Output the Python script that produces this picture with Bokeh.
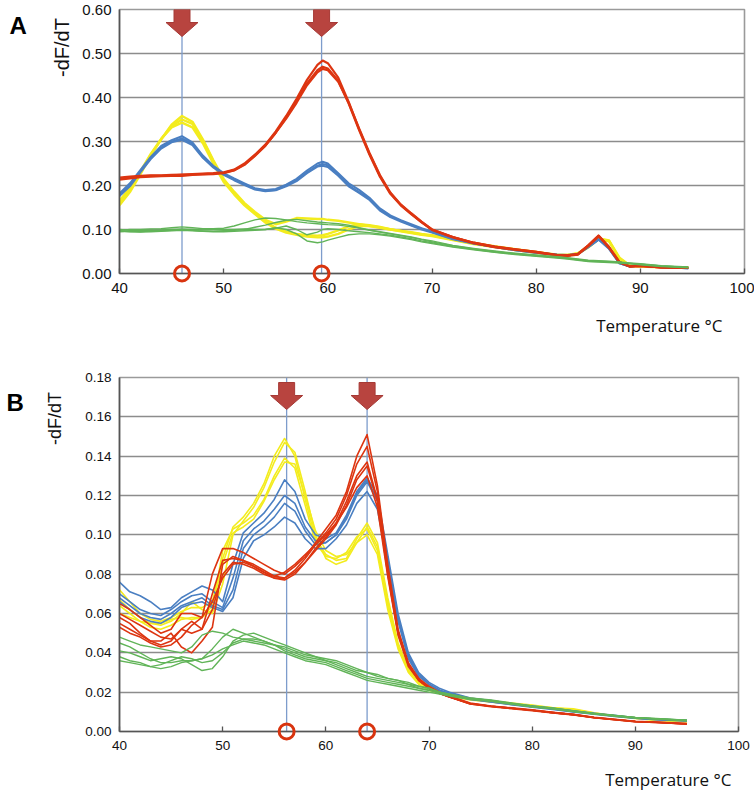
import math
from bokeh.plotting import figure
from bokeh.layouts import column
from bokeh.models import Range1d, FixedTicker, NumeralTickFormatter
from bokeh.core.properties import value
from bokeh.embed import file_html
from bokeh.resources import INLINE

# ---------------- data : panel A ----------------
TEMP_A = [40, 41, 42, 43, 44, 45, 46, 47, 48, 49, 50, 51, 52, 53, 54, 55, 56, 57, 58, 59, 59.5,
          60, 61, 62, 63, 64, 65, 66, 67, 68, 69, 70, 72, 74, 76, 78, 80,
          82, 83, 84, 85, 86, 87, 88, 89, 90, 92, 94.6]

A_YELLOW_1 = [.155, .185, .225, .268, .305, .338, .358, .345, .305, .258, .215, .186, .160, .140, .122, .112, .118, .126, .125, .124, .124,
              .122, .120, .116, .112, .108, .104, .100, .097, .094, .090, .087, .078, .069, .062, .055, .049,
              .043, .042, .046, .062, .080, .075, .036, .018, .017, .015, .014]
A_YELLOW_2 = [.160, .190, .228, .270, .305, .335, .350, .340, .302, .255, .212, .183, .158, .137, .118, .104, .095, .090, .087, .086, .087,
              .090, .098, .107, .112, .110, .106, .101, .097, .093, .089, .086, .077, .068, .061, .054, .048,
              .042, .042, .045, .060, .079, .074, .034, .017, .017, .015, .014]
A_YELLOW_3 = [.165, .195, .232, .272, .306, .332, .343, .332, .296, .250, .208, .180, .155, .135, .116, .102, .093, .088, .084, .082, .082,
              .084, .090, .100, .108, .108, .105, .100, .096, .092, .088, .085, .076, .067, .060, .053, .047,
              .042, .041, .045, .059, .078, .073, .033, .017, .016, .014, .013]

A_BLUE_1 = [.182, .205, .235, .265, .290, .303, .312, .298, .268, .245, .228, .216, .205, .194, .190, .192, .202, .215, .234, .250, .254,
            .250, .228, .205, .190, .172, .148, .132, .121, .112, .103, .095, .080, .069, .061, .054, .048,
            .043, .042, .045, .062, .078, .058, .024, .016, .018, .015, .012]
A_BLUE_2 = [.178, .200, .232, .262, .286, .300, .307, .295, .265, .243, .226, .214, .203, .192, .188, .190, .200, .213, .230, .245, .249,
            .246, .226, .200, .185, .170, .146, .130, .120, .110, .102, .094, .079, .068, .060, .053, .047,
            .042, .041, .044, .060, .077, .056, .023, .016, .018, .014, .012]
A_BLUE_3 = [.176, .198, .230, .260, .284, .298, .304, .292, .263, .241, .224, .212, .201, .191, .187, .189, .198, .210, .228, .243, .245,
            .242, .222, .198, .183, .167, .143, .128, .118, .109, .100, .093, .078, .068, .060, .053, .047,
            .042, .041, .044, .060, .077, .056, .023, .016, .018, .014, .012]

A_RED_1 = [.218, .220, .222, .223, .223, .224, .225, .226, .227, .228, .230, .236, .250, .270, .293, .323, .358, .397, .440, .474, .484,
           .478, .445, .390, .328, .272, .222, .183, .156, .136, .117, .100, .083, .070, .061, .055, .049,
           .042, .041, .044, .064, .086, .060, .026, .016, .017, .014, .013]
A_RED_2 = [.213, .216, .219, .220, .221, .222, .222, .224, .225, .226, .228, .234, .247, .267, .290, .320, .354, .392, .432, .462, .470,
           .466, .438, .386, .326, .270, .220, .181, .155, .135, .116, .099, .082, .069, .060, .054, .048,
           .041, .040, .043, .062, .085, .058, .025, .016, .017, .014, .013]
A_RED_3 = [.216, .218, .221, .222, .222, .223, .224, .225, .226, .227, .229, .235, .248, .268, .291, .320, .352, .388, .428, .457, .465,
           .462, .436, .388, .330, .274, .224, .184, .157, .137, .118, .100, .083, .070, .061, .055, .049,
           .042, .041, .044, .064, .086, .060, .026, .016, .017, .014, .013]

A_GREEN_1 = [.098, .100, .100, .101, .102, .104, .106, .104, .102, .102, .103, .108, .115, .122, .126, .125, .122, .118, .115, .113, .112,
             .111, .110, .107, .103, .098, .094, .090, .086, .082, .077, .072, .063, .056, .050, .045, .041,
             .037, .035, .032, .029, .028, .027, .025, .023, .021, .017, .014]
A_GREEN_2 = [.095, .096, .095, .097, .099, .100, .101, .100, .099, .100, .100, .100, .101, .100, .100, .103, .108, .100, .088, .094, .100,
             .102, .100, .097, .095, .093, .090, .087, .083, .079, .074, .070, .061, .055, .049, .044, .040,
             .036, .034, .031, .028, .027, .026, .025, .023, .021, .017, .014]
A_GREEN_3 = [.100, .098, .097, .097, .097, .098, .099, .098, .096, .095, .095, .096, .097, .098, .100, .104, .100, .090, .074, .070, .072,
             .076, .082, .088, .090, .090, .088, .085, .081, .077, .072, .068, .060, .054, .048, .043, .039,
             .035, .033, .030, .027, .026, .025, .024, .022, .020, .016, .013]
A_GREEN_4 = [.097, .095, .094, .095, .096, .097, .098, .097, .096, .096, .097, .098, .100, .105, .110, .116, .121, .123, .120, .117, .116,
             .115, .113, .110, .104, .099, .095, .091, .087, .083, .078, .074, .064, .057, .051, .046, .042,
             .038, .036, .033, .030, .029, .028, .026, .024, .022, .018, .015]

MARKERS_A = [46.0, 59.4]

# ---------------- data : panel B ----------------
TEMP_B = [40, 41, 42, 43, 44, 45, 46, 47, 48, 49, 50, 51, 52, 53, 54, 55, 56, 57, 58, 59, 60,
          61, 62, 63, 64, 65, 66, 67, 68, 69, 70, 71, 72,
          74, 76, 78, 80, 82, 84, 86, 88, 90, 92, 95]

B_YELLOW_1 = [0.072, 0.066, 0.060, 0.057, 0.056, 0.058, 0.061, 0.063, 0.063, 0.066, 0.088, 0.104, 0.109, 0.116, 0.126, 0.140, 0.149, 0.140, 0.118, 0.098, 0.090,
              0.087, 0.088, 0.098, 0.106, 0.096, 0.068, 0.045, 0.032, 0.026, 0.023, 0.021, 0.019,
              0.017, 0.0155, 0.0145, 0.0135, 0.012, 0.0115, 0.0095, 0.008, 0.007, 0.006, 0.0052]
B_YELLOW_2 = [0.067, 0.062, 0.058, 0.055, 0.054, 0.056, 0.060, 0.066, 0.062, 0.060, 0.075, 0.100, 0.107, 0.114, 0.124, 0.137, 0.147, 0.142, 0.122, 0.100, 0.088,
              0.085, 0.087, 0.096, 0.104, 0.094, 0.066, 0.044, 0.031, 0.025, 0.022, 0.020, 0.018,
              0.0165, 0.015, 0.014, 0.013, 0.0118, 0.011, 0.0092, 0.0078, 0.0068, 0.0058, 0.005]
B_YELLOW_3 = [0.064, 0.060, 0.056, 0.053, 0.052, 0.054, 0.057, 0.058, 0.058, 0.062, 0.092, 0.103, 0.106, 0.110, 0.118, 0.130, 0.139, 0.134, 0.115, 0.096, 0.089,
              0.088, 0.091, 0.099, 0.103, 0.092, 0.064, 0.043, 0.031, 0.025, 0.022, 0.020, 0.018,
              0.0168, 0.0152, 0.0142, 0.0132, 0.012, 0.0112, 0.0094, 0.008, 0.0068, 0.006, 0.0052]
B_YELLOW_4 = [0.060, 0.058, 0.056, 0.055, 0.055, 0.057, 0.058, 0.057, 0.058, 0.064, 0.085, 0.101, 0.104, 0.108, 0.117, 0.128, 0.137, 0.136, 0.120, 0.102, 0.092,
              0.089, 0.090, 0.096, 0.100, 0.090, 0.062, 0.042, 0.030, 0.024, 0.021, 0.0195, 0.0178,
              0.016, 0.015, 0.0138, 0.013, 0.0118, 0.011, 0.009, 0.0078, 0.0066, 0.0058, 0.005]

B_BLUE_1 = [0.076, 0.071, 0.069, 0.066, 0.062, 0.063, 0.068, 0.071, 0.074, 0.072, 0.066, 0.085, 0.101, 0.106, 0.111, 0.118, 0.128, 0.122, 0.108, 0.100, 0.098,
            0.101, 0.110, 0.122, 0.129, 0.120, 0.090, 0.060, 0.040, 0.030, 0.025, 0.022, 0.020,
            0.017, 0.0158, 0.0142, 0.013, 0.0118, 0.0105, 0.0093, 0.0082, 0.007, 0.0063, 0.0057]
B_BLUE_2 = [0.070, 0.066, 0.062, 0.060, 0.059, 0.062, 0.066, 0.069, 0.070, 0.066, 0.063, 0.078, 0.097, 0.103, 0.107, 0.113, 0.120, 0.116, 0.104, 0.097, 0.096,
            0.100, 0.109, 0.121, 0.128, 0.118, 0.088, 0.058, 0.039, 0.029, 0.024, 0.021, 0.0195,
            0.0168, 0.0155, 0.014, 0.0128, 0.0116, 0.0103, 0.0091, 0.008, 0.0069, 0.0062, 0.0056]
B_BLUE_3 = [0.068, 0.064, 0.060, 0.058, 0.057, 0.060, 0.064, 0.066, 0.068, 0.064, 0.062, 0.072, 0.093, 0.100, 0.104, 0.109, 0.116, 0.112, 0.102, 0.095, 0.096,
            0.100, 0.108, 0.120, 0.127, 0.117, 0.087, 0.057, 0.038, 0.029, 0.024, 0.021, 0.019,
            0.0165, 0.0152, 0.0138, 0.0126, 0.0114, 0.0101, 0.009, 0.0079, 0.0068, 0.0061, 0.0055]
B_BLUE_4 = [0.066, 0.062, 0.058, 0.056, 0.055, 0.058, 0.063, 0.065, 0.066, 0.063, 0.061, 0.068, 0.088, 0.097, 0.100, 0.104, 0.109, 0.106, 0.098, 0.093, 0.093,
            0.098, 0.105, 0.116, 0.122, 0.113, 0.085, 0.056, 0.037, 0.028, 0.024, 0.021, 0.019,
            0.0163, 0.015, 0.0136, 0.0124, 0.0112, 0.010, 0.0088, 0.0077, 0.0067, 0.006, 0.0054]

B_RED_1 = [0.065, 0.062, 0.058, 0.054, 0.050, 0.052, 0.060, 0.060, 0.058, 0.080, 0.093, 0.093, 0.091, 0.088, 0.085, 0.082, 0.080, 0.084, 0.089, 0.096, 0.103,
           0.110, 0.122, 0.140, 0.151, 0.125, 0.085, 0.052, 0.035, 0.027, 0.023, 0.020, 0.018,
           0.0145, 0.013, 0.012, 0.011, 0.0098, 0.0088, 0.0072, 0.0062, 0.0052, 0.0048, 0.004]
B_RED_2 = [0.060, 0.057, 0.054, 0.051, 0.048, 0.047, 0.052, 0.050, 0.052, 0.070, 0.087, 0.088, 0.087, 0.085, 0.082, 0.079, 0.078, 0.082, 0.088, 0.095, 0.101,
           0.108, 0.120, 0.136, 0.145, 0.122, 0.083, 0.051, 0.034, 0.027, 0.022, 0.0195, 0.0175,
           0.014, 0.0128, 0.0118, 0.0108, 0.0096, 0.0086, 0.007, 0.006, 0.005, 0.0046, 0.0038]
B_RED_3 = [0.058, 0.055, 0.050, 0.046, 0.046, 0.050, 0.043, 0.040, 0.046, 0.053, 0.085, 0.089, 0.087, 0.084, 0.081, 0.078, 0.077, 0.080, 0.086, 0.093, 0.099,
           0.106, 0.117, 0.130, 0.137, 0.118, 0.081, 0.050, 0.034, 0.026, 0.022, 0.0195, 0.0175,
           0.0142, 0.0128, 0.0118, 0.0108, 0.0096, 0.0086, 0.0071, 0.0061, 0.0051, 0.0047, 0.0039]
B_RED_4 = [0.055, 0.052, 0.049, 0.046, 0.044, 0.046, 0.052, 0.056, 0.052, 0.062, 0.080, 0.086, 0.085, 0.083, 0.080, 0.078, 0.078, 0.081, 0.086, 0.092, 0.098,
           0.105, 0.115, 0.128, 0.135, 0.117, 0.080, 0.050, 0.034, 0.026, 0.022, 0.0195, 0.0175,
           0.0142, 0.0128, 0.0118, 0.0108, 0.0096, 0.0086, 0.0071, 0.0061, 0.0051, 0.0047, 0.0039]
B_RED_5 = [0.053, 0.050, 0.048, 0.045, 0.043, 0.044, 0.048, 0.054, 0.058, 0.066, 0.078, 0.085, 0.086, 0.084, 0.081, 0.079, 0.081, 0.085, 0.090, 0.095, 0.100,
           0.106, 0.114, 0.124, 0.130, 0.114, 0.079, 0.049, 0.033, 0.026, 0.022, 0.0195, 0.0175,
           0.014, 0.0126, 0.0116, 0.0106, 0.0094, 0.0084, 0.007, 0.006, 0.005, 0.0046, 0.0038]

B_GREEN_1 = [0.048, 0.046, 0.044, 0.043, 0.042, 0.041, 0.040, 0.043, 0.049, 0.051, 0.050, 0.048, 0.047, 0.046, 0.045, 0.044, 0.042, 0.040, 0.038, 0.037, 0.036,
             0.035, 0.033, 0.031, 0.030, 0.029, 0.027, 0.026, 0.025, 0.023, 0.022, 0.020, 0.019,
             0.017, 0.016, 0.0145, 0.013, 0.012, 0.0105, 0.0092, 0.0082, 0.0072, 0.0066, 0.0058]
B_GREEN_2 = [0.045, 0.043, 0.040, 0.037, 0.035, 0.035, 0.036, 0.036, 0.037, 0.042, 0.048, 0.052, 0.050, 0.048, 0.046, 0.044, 0.043, 0.041, 0.039, 0.038, 0.037,
             0.036, 0.034, 0.032, 0.030, 0.028, 0.027, 0.026, 0.024, 0.023, 0.022, 0.020, 0.019,
             0.0168, 0.0158, 0.0143, 0.0128, 0.0118, 0.0104, 0.0091, 0.0081, 0.0071, 0.0065, 0.0057]
B_GREEN_3 = [0.041, 0.040, 0.038, 0.036, 0.037, 0.038, 0.037, 0.034, 0.031, 0.032, 0.038, 0.046, 0.049, 0.050, 0.048, 0.046, 0.044, 0.042, 0.040, 0.038, 0.036,
             0.034, 0.032, 0.030, 0.028, 0.027, 0.026, 0.025, 0.024, 0.022, 0.021, 0.0195, 0.0185,
             0.0166, 0.0156, 0.0142, 0.0127, 0.0117, 0.0103, 0.009, 0.008, 0.007, 0.0064, 0.0056]
B_GREEN_4 = [0.038, 0.036, 0.035, 0.033, 0.034, 0.036, 0.038, 0.037, 0.035, 0.036, 0.040, 0.045, 0.047, 0.047, 0.046, 0.044, 0.041, 0.039, 0.037, 0.036, 0.035,
             0.033, 0.031, 0.029, 0.027, 0.026, 0.025, 0.024, 0.023, 0.022, 0.021, 0.0195, 0.0185,
             0.0165, 0.0155, 0.014, 0.0126, 0.0116, 0.0102, 0.009, 0.008, 0.007, 0.0064, 0.0056]
B_GREEN_5 = [0.036, 0.035, 0.034, 0.033, 0.032, 0.033, 0.035, 0.036, 0.037, 0.039, 0.042, 0.044, 0.046, 0.045, 0.044, 0.042, 0.040, 0.038, 0.036, 0.035, 0.034,
             0.032, 0.030, 0.028, 0.026, 0.025, 0.024, 0.023, 0.022, 0.021, 0.020, 0.019, 0.018,
             0.0163, 0.0153, 0.0139, 0.0125, 0.0115, 0.0101, 0.0089, 0.0079, 0.0069, 0.0063, 0.0055]

MARKERS_B = [56.2, 64.0]

X_TICKS = [40, 50, 60, 70, 80, 90, 100]

# ---------------- style ----------------
YELLOW = "#f3ec1e"
BLUE = "#4a7fc2"
RED = "#dd3511"
GREEN = "#61b458"
VLINE = "#7d9ccc"
ARROW = "#b8443f"
RING = "#d9340f"


def build(letter, temps, groups, y_max, y_step, markers, cfg):
    for _, curves, _ in groups:
        for c in curves:
            assert len(c) == len(temps), (letter, len(c), len(temps))
    fw, fh = cfg["fw"], cfg["fh"]
    p = figure(width=cfg["bl"] + fw + cfg["br"], height=cfg["bt"] + fh + cfg["bb"],
               frame_width=fw, frame_height=fh,
               min_border_left=cfg["bl"], min_border_right=cfg["br"],
               min_border_top=cfg["bt"], min_border_bottom=cfg["bb"],
               x_range=Range1d(40, 100), y_range=Range1d(0, y_max),
               output_backend="svg", toolbar_location=None,
               background_fill_color="white", border_fill_color="white")
    p.outline_line_color = "#9a9a9a"
    p.outline_line_width = 1.6

    nt = int(round(y_max / y_step))
    p.yaxis.ticker = FixedTicker(ticks=[round(i * y_step, 4) for i in range(nt + 1)])
    p.yaxis.formatter = NumeralTickFormatter(format="0.00")
    p.xaxis.ticker = FixedTicker(ticks=X_TICKS)
    p.xgrid.visible = False
    p.ygrid.grid_line_color = "#8c8c8c"
    p.ygrid.grid_line_width = 1.3

    for ax in (p.xaxis, p.yaxis):
        ax.axis_line_color = "#555555"
        ax.axis_line_width = 1.6
        ax.minor_tick_line_color = None
        ax.major_label_text_font = "Liberation Sans"
        ax.major_label_text_font_size = cfg["tick_size"]
        ax.major_label_text_color = "#111111"
    p.yaxis.major_tick_in = 0
    p.yaxis.major_tick_out = 0
    p.yaxis.major_label_standoff = 8
    p.xaxis.major_tick_in = 5
    p.xaxis.major_tick_out = 0
    p.xaxis.major_tick_line_color = "#555555"
    p.xaxis.major_tick_line_width = 1.3
    p.xaxis.major_label_standoff = cfg["xstand"]

    # vertical marker lines
    p.segment(x0=markers, y0=[0] * len(markers), x1=markers, y1=[y_max] * len(markers),
              line_color=VLINE, line_width=1.3)

    for color, curves, lw in groups:
        p.multi_line(xs=[temps] * len(curves), ys=curves, line_color=color,
                     line_width=lw, line_join="round")

    # arrows (pixel sized, converted with the panel scale)
    xpx = fw / 60.0
    ypx = fh / y_max
    sw, hw = 8.0 / xpx, 16.0 / xpx
    yt = y_max - cfg["a_top"] / ypx
    yh = y_max - cfg["a_head"] / ypx
    ytip = y_max - cfg["a_tip"] / ypx
    axs, ays = [], []
    for m in markers:
        axs.append([m - sw, m + sw, m + sw, m + hw, m, m - hw, m - sw])
        ays.append([yt, yt, yh, yh, ytip, yh, yh])
    p.patches(xs=axs, ys=ays, fill_color=ARROW, line_color="#a63a36", line_width=1)

    # red rings on the axis
    p.scatter(x=markers, y=[0] * len(markers), marker="circle", size=15,
              fill_color=None, line_color=RING, line_width=3, level="overlay")

    # texts (text glyphs anchored at frame corners, offset in pixels)
    p.text(x=[40], y=[y_max], text=[letter], x_offset=cfg["lx"], y_offset=cfg["ly"],
           text_font=value("Liberation Sans"), text_font_style="bold",
           text_font_size=value("24px"), text_color="#000000",
           text_baseline="alphabetic", text_align="left", level="overlay")
    p.text(x=[40], y=[y_max], text=["-dF/dT"], x_offset=cfg["yx"], y_offset=cfg["yy"],
           angle=math.pi / 2, text_font=value("Liberation Sans"),
           text_font_size=value(cfg["ylab_size"]), text_color="#111111",
           text_baseline="middle", text_align="center", level="overlay")
    p.text(x=[100], y=[0], text=["Temperature \u00b0C"], x_offset=cfg["tx"], y_offset=cfg["ty"],
           text_font=value("Open Sans"), text_font_size=value("17px"), text_color="#111111",
           text_baseline="middle", text_align="right", level="overlay")
    return p


groups_A = [
    (YELLOW, [A_YELLOW_1, A_YELLOW_2, A_YELLOW_3], 2.4),
    (BLUE, [A_BLUE_1, A_BLUE_2, A_BLUE_3], 2.0),
    (RED, [A_RED_1, A_RED_2, A_RED_3], 2.2),
    (GREEN, [A_GREEN_1, A_GREEN_2, A_GREEN_3, A_GREEN_4], 1.4),
]
groups_B = [
    (YELLOW, [B_YELLOW_1, B_YELLOW_2, B_YELLOW_3, B_YELLOW_4], 1.6),
    (BLUE, [B_BLUE_1, B_BLUE_2, B_BLUE_3, B_BLUE_4], 1.6),
    (RED, [B_RED_1, B_RED_2, B_RED_3, B_RED_4, B_RED_5], 1.6),
    (GREEN, [B_GREEN_1, B_GREEN_2, B_GREEN_3, B_GREEN_4, B_GREEN_5], 1.4),
]

# page has no body margin here: frame positions taken directly from the reference
cfgA = dict(fw=625, fh=264, bl=114, br=15, bt=9, bb=79, tick_size="15px", xstand=9,
            a_top=0, a_head=13, a_tip=27,
            lx=-110, ly=16, yx=-58, yy=38, ylab_size="20px", tx=-22, ty=52)
cfgB = dict(fw=619, fh=354, bl=119, br=16, bt=25, bb=61, tick_size="13.5px", xstand=9,
            a_top=5, a_head=18, a_tip=32,
            lx=-113, ly=25, yx=-65, yy=41, ylab_size="18px", tx=-7, ty=48)

pA = build("A", TEMP_A, groups_A, 0.6, 0.1, MARKERS_A, cfgA)
pB = build("B", TEMP_B, groups_B, 0.18, 0.02, MARKERS_B, cfgB)

layout = column(pA, pB, spacing=0)
open("out.html", "w").write(file_html(layout, INLINE))
